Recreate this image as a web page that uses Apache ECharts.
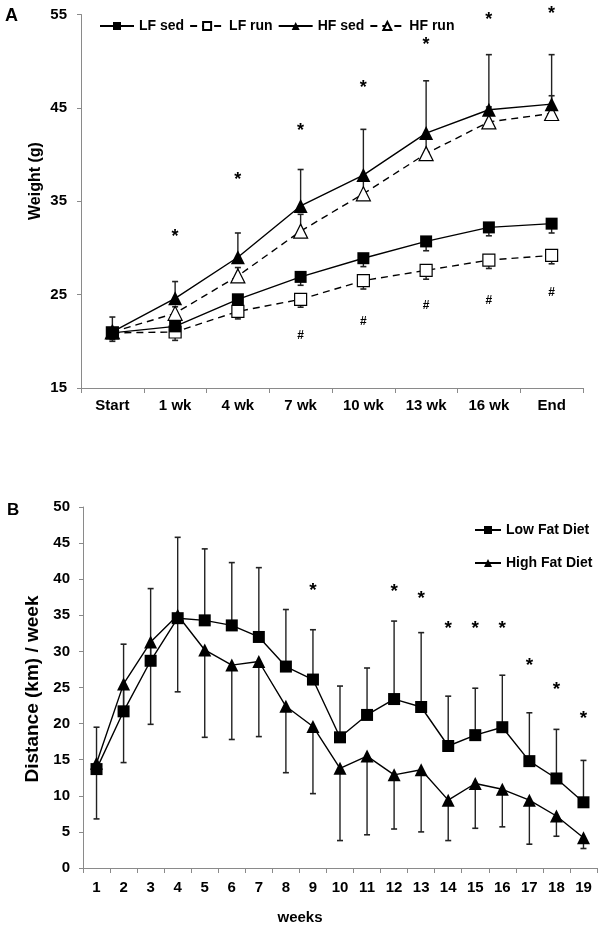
<!DOCTYPE html>
<html><head><meta charset="utf-8">
<script src="https://cdn.jsdelivr.net/npm/echarts@6/dist/echarts.min.js"></script>
<style>html,body{margin:0;padding:0;background:#fff}#c{width:600px;height:930px}</style>
</head><body><div id="c"></div>
<script>
// ---------- Panel A data ----------
const catsA = ['Start', '1 wk', '4 wk', '7 wk', '10 wk', '13 wk', '16 wk', 'End'];
const lfSed    = [20.9, 21.6, 24.5, 26.9, 28.9, 30.7, 32.2, 32.6];
const lfSedErr = [0.9, 0.8, 0.9, 0.9, 0.9, 1.0, 0.9, 1.0];
const lfRun    = [20.9, 21.0, 23.2, 24.5, 26.5, 27.6, 28.7, 29.2];
const lfRunErr = [0.7, 0.9, 0.8, 0.85, 0.9, 0.95, 0.9, 0.9];
const hfSed    = [21.0, 24.6, 29.0, 34.5, 37.8, 42.3, 44.8, 45.4];
const hfSedErr = [1.6, 1.8, 2.6, 3.9, 4.9, 5.6, 5.9, 5.3];
const hfRun    = [21.0, 23.0, 27.0, 31.8, 35.8, 40.1, 43.5, 44.4];
const hfRunErr = [0, 0.7, 0.9, 1.8, 1.6, 1.6, 1.6, 1.9];
const starsA   = [[1, 31.6], [2, 37.7], [3, 43.0], [4, 47.6], [5, 52.2], [6, 54.8], [7, 55.5]];
const hashA    = [[3, 20.6], [4, 22.1], [5, 23.8], [6, 24.4], [7, 25.2]];

// ---------- Panel B data ----------
const weeksB     = ['1','2','3','4','5','6','7','8','9','10','11','12','13','14','15','16','17','18','19'];
const lowFat     = [13.7, 21.7, 28.7, 34.6, 34.3, 33.6, 32.0, 27.9, 26.1, 18.1, 21.2, 23.4, 22.3, 16.9, 18.4, 19.5, 14.8, 12.4, 9.1];
const lowFatErr  = [5.8, 9.3, 10.0, 11.2, 9.9, 8.7, 9.6, 7.9, 6.9, 7.1, 6.5, 10.8, 10.3, 6.9, 6.5, 7.2, 6.7, 6.8, 5.8];
const highFat    = [14.5, 25.5, 31.3, 35.0, 30.2, 28.1, 28.6, 22.4, 19.6, 13.8, 15.5, 12.9, 13.6, 9.4, 11.7, 10.9, 9.4, 7.2, 4.2];
const highFatErr = [7.7, 10.9, 11.4, 10.6, 12.1, 10.3, 10.4, 9.2, 9.3, 10.0, 10.9, 7.5, 8.6, 5.6, 6.2, 5.2, 6.1, 2.8, 1.5];
const starsB     = [[8, 38.9], [11, 38.8], [12, 37.8], [13, 33.7], [14, 33.7], [15, 33.7], [16, 28.5], [17, 25.3], [18, 21.2]];

const FONT = '"Liberation Sans", Arial, Helvetica, sans-serif';
const AX = '#8a8a8a';

function renderErr(params, api) {
  const i = api.value(0), v = api.value(1), e = api.value(2);
  if (Math.abs(v - e) < 1e-9) return null;
  const a = api.coord([i, v]), b = api.coord([i, e]);
  return {type: 'group', children: [
    {type: 'line', shape: {x1: a[0], y1: a[1], x2: b[0], y2: b[1]}, style: {stroke: '#222', lineWidth: 1.4}},
    {type: 'line', shape: {x1: b[0] - 3, y1: b[1], x2: b[0] + 3, y2: b[1]}, style: {stroke: '#222', lineWidth: 1.6}}
  ]};
}
function errSeries(ax, vals, errs, dir) {
  return {type: 'custom', xAxisIndex: ax, yAxisIndex: ax, clip: false, z: 1,
    encode: {x: 0, y: [1, 2]},
    data: vals.map((v, i) => [i, v, v + dir * errs[i]]), renderItem: renderErr};
}
function textSeries(ax, data, mark, size, dy) {
  return {type: 'custom', xAxisIndex: ax, yAxisIndex: ax, clip: false, z: 20,
    encode: {x: 0, y: 1}, data,
    renderItem: (p, api) => {
      const c = api.coord([api.value(0), api.value(1)]);
      return {type: 'text', x: c[0], y: c[1] + dy,
        style: {text: mark, font: `bold ${size}px ${FONT}`, fill: '#000', align: 'center', verticalAlign: 'middle'}};
    }};
}
function lineSeries(name, ax, data, symbol, size, hollow, dashed) {
  return {name, type: 'line', xAxisIndex: ax, yAxisIndex: ax, data, symbol, symbolSize: size,
    z: hollow ? 3 : 4,
    lineStyle: {color: '#000', width: 1.4, type: dashed ? [7, 5] : 'solid'},
    itemStyle: hollow ? {color: '#fff', borderColor: '#000', borderWidth: 1.2} : {color: '#000', borderColor: '#000', borderWidth: 0},
    emphasis: {disabled: true}, animation: false};
}

const chart = echarts.init(document.getElementById('c'));
const axisCommon = {
  axisLine: {show: true, lineStyle: {color: AX, width: 1}},
  axisTick: {show: true, lineStyle: {color: AX}},
  splitLine: {show: false},
  axisLabel: {color: '#000', fontFamily: FONT, fontWeight: 'bold', fontSize: 15}
};
chart.setOption({
  animation: false,
  textStyle: {fontFamily: FONT},
  grid: [
    {left: 81, top: 14.5, right: 17, height: 373.5},
    {left: 83, top: 507, right: 3, bottom: 62}
  ],
  xAxis: [
    Object.assign({}, axisCommon, {type: 'category', gridIndex: 0, data: catsA,
      axisTick: {show: true, length: 5, lineStyle: {color: AX}},
      axisLabel: Object.assign({}, axisCommon.axisLabel, {margin: 10, interval: 0})}),
    Object.assign({}, axisCommon, {type: 'category', gridIndex: 1, data: weeksB,
      axisTick: {show: true, length: 5, lineStyle: {color: AX}},
      axisLabel: Object.assign({}, axisCommon.axisLabel, {margin: 12, interval: 0})})
  ],
  yAxis: [
    Object.assign({}, axisCommon, {type: 'value', gridIndex: 0, min: 15, max: 55, interval: 10,
      axisTick: {show: true, length: 4, lineStyle: {color: AX}},
      axisLabel: Object.assign({}, axisCommon.axisLabel, {margin: 14})}),
    Object.assign({}, axisCommon, {type: 'value', gridIndex: 1, min: 0, max: 50, interval: 5,
      axisTick: {show: true, length: 4, lineStyle: {color: AX}},
      axisLabel: Object.assign({}, axisCommon.axisLabel, {margin: 13})})
  ],
  legend: [
    {data: ['LF sed', 'LF run', 'HF sed', 'HF run'], left: 94, top: 14, itemWidth: 34, itemHeight: 10, itemGap: 5,
      textStyle: {color: '#000', fontFamily: FONT, fontWeight: 'bold', fontSize: 14}, selectedMode: false},
    {data: ['Low Fat Diet', 'High Fat Diet'], orient: 'vertical', left: 469, top: 518, itemWidth: 26, itemHeight: 10, itemGap: 19,
      textStyle: {color: '#000', fontFamily: FONT, fontWeight: 'bold', fontSize: 14}, selectedMode: false}
  ],
  graphic: [
    {type: 'text', left: 5, top: 7, style: {text: 'A', font: `bold 18px ${FONT}`, fill: '#000'}},
    {type: 'text', left: 7, top: 502, style: {text: 'B', font: `bold 17px ${FONT}`, fill: '#000'}},
    {type: 'text', x: 36, y: 181, rotation: Math.PI / 2, style: {text: 'Weight (g)', font: `bold 16px ${FONT}`, fill: '#000', align: 'center', verticalAlign: 'middle'}},
    {type: 'text', x: 33, y: 689, rotation: Math.PI / 2, style: {text: 'Distance (km) / week', font: `bold 19px ${FONT}`, fill: '#000', align: 'center', verticalAlign: 'middle'}},
    {type: 'text', x: 300, y: 918, style: {text: 'weeks', font: `bold 15px ${FONT}`, fill: '#000', align: 'center', verticalAlign: 'middle'}}
  ],
  series: [
    errSeries(0, lfSed, lfSedErr, -1),
    errSeries(0, lfRun, lfRunErr, -1),
    errSeries(0, hfSed, hfSedErr, 1),
    errSeries(0, hfRun, hfRunErr, 1),
    lineSeries('LF sed', 0, lfSed, 'rect', 12, false, false),
    lineSeries('LF run', 0, lfRun, 'rect', 12, true, true),
    lineSeries('HF run', 0, hfRun, 'triangle', 14, true, true),
    lineSeries('HF sed', 0, hfSed, 'triangle', 14, false, false),
    textSeries(0, starsA, '*', 18, 4),
    textSeries(0, hashA, '#', 12, 0),
    errSeries(1, lowFat, lowFatErr, 1),
    errSeries(1, highFat, highFatErr, -1),
    lineSeries('Low Fat Diet', 1, lowFat, 'rect', 12, false, false),
    lineSeries('High Fat Diet', 1, highFat, 'triangle', 13, false, false),
    textSeries(1, starsB, '*', 19, 4)
  ]
});
</script></body></html>
